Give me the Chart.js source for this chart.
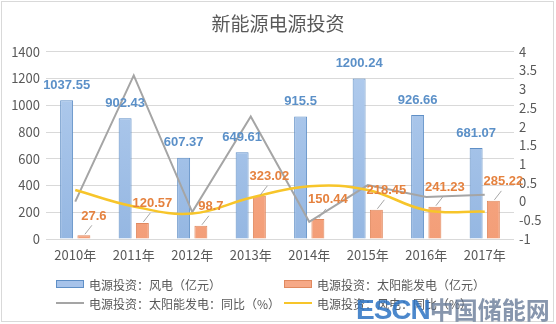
<!DOCTYPE html>
<html>
<head>
<meta charset="utf-8">
<script src="https://cdn.jsdelivr.net/npm/chart.js@4.4.1/dist/chart.umd.min.js"></script>
<style>
  html, body { margin: 0; padding: 0; background: #fff; }
  #wrap { position: relative; width: 556px; height: 324px; overflow: hidden; font-family: "Noto Sans CJK SC", sans-serif; }
  #frame { position: absolute; left: 1px; top: 1px; width: 551px; height: 319px; border: 1px solid #d9d9d9; }
  #chart { position: absolute; left: 0; top: 0; }
  #legend { position: absolute; left: 56px; top: 276px; display: grid; grid-template-columns: 228px 250px; row-gap: 3px; font-size: 12px; color: #595959; }
  .item { display: flex; align-items: center; height: 16px; white-space: nowrap; }
  .swatch { width: 26px; height: 6px; margin-right: 5px; border: 1px solid; }
  .stroke { width: 28px; height: 0; margin-right: 5px; border-top: 2px solid; }
  #mark { position: absolute; left: 356px; top: 291px; white-space: nowrap; line-height: 30px; }
  #mark .en { font: bold 28px "Liberation Sans", Arial, sans-serif; color: rgba(45, 115, 195, 0.85); letter-spacing: -1px; }
  #mark .cn { font: bold 24px "Noto Sans CJK SC", sans-serif; color: rgba(95, 115, 145, 0.75); }
</style>
</head>
<body>
<div id="wrap">
  <div id="frame"></div>
  <canvas id="chart" width="556" height="324"></canvas>
  <div id="legend"></div>
  <div id="mark"><span class="en">ESCN</span><span class="cn">中国储能网</span></div>
</div>
<script>
// 年份
const years = ['2010年', '2011年', '2012年', '2013年', '2014年', '2015年', '2016年', '2017年'];
// 电源投资（亿元）
const windInvest = [1037.55, 902.43, 607.37, 649.61, 915.5, 1200.24, 926.66, 681.07];
const solarInvest = [27.6, 120.57, 98.7, 323.02, 150.44, 218.45, 241.23, 285.22];
// 同比（右轴）
const solarYoY = [0, 3.37, -0.28, 2.27, -0.54, 0.44, 0.12, 0.18];
const windYoY = [0.31, -0.13, -0.32, 0.1, 0.41, 0.31, -0.23, -0.27];

const seriesNames = [
    '电源投资：风电（亿元）',
    '电源投资：太阳能发电（亿元）',
    '电源投资：太阳能发电：同比（%）',
    '电源投资：风电：同比（%）'
];

const axisFont = { family: '"Noto Sans CJK SC", sans-serif', size: 13 };

function barFill(top, bottom) {
    return (ctx) => {
        const area = ctx.chart.chartArea;
        if (!area) return bottom;
        const g = ctx.chart.ctx.createLinearGradient(0, area.top, 0, area.bottom);
        g.addColorStop(0, top);
        g.addColorStop(1, bottom);
        return g;
    };
}

// bar value labels; solar labels sit up-right with a short leader line
const valueLabels = {
    id: 'valueLabels',
    afterDatasetsDraw(chart) {
        const ctx = chart.ctx;
        ctx.save();
        ctx.font = 'bold 13px "Liberation Sans", Arial, sans-serif';
        ctx.textAlign = 'center';
        ctx.textBaseline = 'middle';

        chart.getDatasetMeta(0).data.forEach((bar, i) => {
            ctx.fillStyle = '#5b90c8';
            ctx.fillText(String(windInvest[i]), bar.x, bar.y - 15);
        });

        chart.getDatasetMeta(1).data.forEach((bar, i) => {
            const lx = bar.x + 10, ly = bar.y - 19;
            ctx.strokeStyle = '#a6a6a6';
            ctx.lineWidth = 1;
            ctx.beginPath();
            ctx.moveTo(bar.x + 1, bar.y - 1);
            ctx.lineTo(bar.x + 8, bar.y - 10);
            ctx.stroke();
            ctx.fillStyle = '#e5823f';
            ctx.fillText(String(solarInvest[i]), lx, ly);
        });
        ctx.restore();
    }
};

function buildLegend(chart) {
    const box = document.getElementById('legend');
    chart.data.datasets.forEach((ds) => {
        const item = document.createElement('div');
        item.className = 'item';
        const m = document.createElement('span');
        if (ds.type === 'line') {
            m.className = 'stroke';
            m.style.borderTopColor = ds.borderColor;
        } else {
            m.className = 'swatch';
            m.style.background = ds.legendFill;
            m.style.borderColor = ds.borderColor;
        }
        item.appendChild(m);
        item.appendChild(document.createTextNode(ds.label));
        box.appendChild(item);
    });
}

const chart = new Chart(document.getElementById('chart').getContext('2d'), {
    data: {
        labels: years,
        datasets: [
            {
                type: 'bar',
                label: seriesNames[0],
                data: windInvest,
                yAxisID: 'y',
                backgroundColor: barFill('#b3cdee', '#95b7e2'),
                legendFill: '#a7c3ea',
                borderColor: '#5f8fc6',
                borderWidth: 1,
                categoryPercentage: 0.59,
                barPercentage: 0.75,
                order: 2
            },
            {
                type: 'bar',
                label: seriesNames[1],
                data: solarInvest,
                yAxisID: 'y',
                backgroundColor: barFill('#f8b190', '#f39e78'),
                legendFill: '#f6a987',
                borderColor: '#e0895f',
                borderWidth: 1,
                categoryPercentage: 0.59,
                barPercentage: 0.75,
                order: 2
            },
            {
                type: 'line',
                label: seriesNames[2],
                data: solarYoY,
                yAxisID: 'y1',
                borderColor: '#a5a5a5',
                borderWidth: 2,
                pointRadius: 0,
                tension: 0,
                order: 1
            },
            {
                type: 'line',
                label: seriesNames[3],
                data: windYoY,
                yAxisID: 'y1',
                borderColor: '#f7c52a',
                borderWidth: 2.5,
                pointRadius: 0,
                tension: 0.4,
                order: 0
            }
        ]
    },
    options: {
        responsive: false,
        animation: false,
        layout: { padding: { top: 0, left: 0, right: 0, bottom: 59 } },
        plugins: {
            legend: { display: false },
            tooltip: { enabled: false },
            title: {
                display: true,
                text: '新能源电源投资',
                color: '#595959',
                font: { family: '"Noto Sans CJK SC", sans-serif', size: 19, weight: 'normal' },
                padding: { top: 12, bottom: 17 }
            }
        },
        scales: {
            x: {
                grid: { display: false, drawTicks: false },
                border: { display: false },
                ticks: { color: '#595959', font: axisFont, padding: 8, maxRotation: 0 },
                afterFit: (s) => { s.height = 26; }
            },
            y: {
                position: 'left',
                min: 0,
                max: 1400,
                ticks: { stepSize: 200, color: '#595959', font: axisFont, padding: 6, callback: (v) => String(v) },
                grid: { color: '#d9d9d9', drawTicks: false },
                border: { display: false },
                afterFit: (s) => { s.width = 46; }
            },
            y1: {
                position: 'right',
                min: -1,
                max: 4,
                ticks: { stepSize: 0.5, color: '#595959', font: axisFont, padding: 5, callback: (v) => String(v) },
                grid: { display: false, drawTicks: false },
                border: { display: false },
                afterFit: (s) => { s.width = 42; }
            }
        }
    },
    plugins: [valueLabels]
});

buildLegend(chart);
</script>
</body>
</html>
